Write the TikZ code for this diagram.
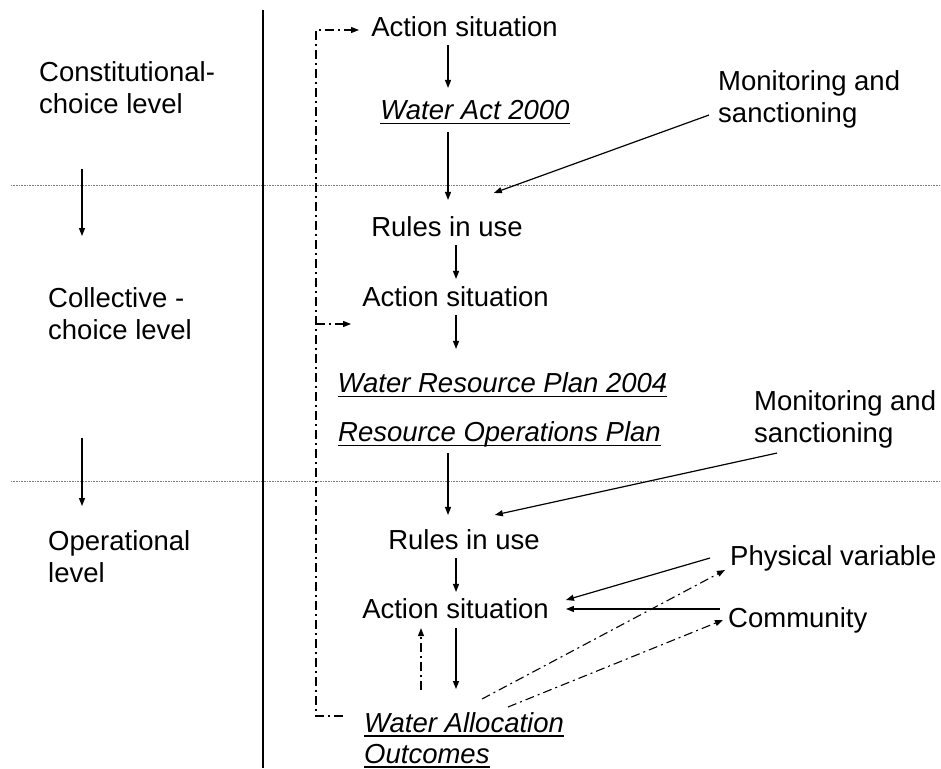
\documentclass[tikz,border=0pt]{standalone}
\usepackage{fontspec}
\setmainfont{Liberation Sans}
\usetikzlibrary{arrows.meta}

\newcommand{\udoc}[1]{\leavevmode\setbox0\hbox{#1}\rlap{\rule[-4.5pt]{\wd0}{1.8pt}}\box0}

\begin{document}
\begin{tikzpicture}[x=1pt,y=-1pt,
  lbl/.style={font=\fontsize{27.5}{32}\selectfont, inner sep=0pt, text height=19.7pt, text depth=0pt},
  doc/.style={lbl, font=\fontsize{27.5}{32}\selectfont\itshape},
  note/.style={font=\fontsize{27.5}{32}\selectfont, inner sep=0pt, align=left, anchor=north west},
  flow/.style={line width=1.2pt, -{Triangle[length=8pt,width=6pt]}},
  fb/.style={line width=1.1pt, dash pattern=on 9pt off 4pt on 2pt off 4pt},
  level/.style={line width=0.6pt, gray, dash pattern=on 0.8pt off 0.8pt}]
\useasboundingbox (0,0) rectangle (941,768);

\draw[level] (11,185) -- (941,185);
\draw[level] (11,481) -- (941,481);
\draw[line width=1.2pt] (263,10) -- (263,768);

\node[note] (constit) at (39,61) {Constitutional-\\choice level};
\node[note] (collect) at (48,287) {Collective -\\choice level};
\node[note] (operat) at (48,530) {Operational\\level};

\node[lbl] (actTop) at (464.5,27) {Action situation};
\node[doc] (waterAct) at (475,110) {\udoc{Water Act 2000}};
\node[lbl] (rulesTop) at (447,227) {Rules in use};
\node[lbl] (actMid) at (455.5,297) {Action situation};
\node[doc] (wrp) at (502.5,383) {\udoc{Water Resource Plan 2004}};
\node[doc] (rop) at (499.5,432) {\udoc{Resource Operations Plan}};
\node[lbl] (rulesLow) at (464,540) {Rules in use};
\node[lbl] (actLow) at (455.5,609) {Action situation};
\node[note, font=\fontsize{27.5}{31}\selectfont\itshape] (wao) at (364,712) {\udoc{Water Allocation}\\\udoc{Outcomes}};

\node[note] (monTop) at (718,70) {Monitoring and\\sanctioning};
\node[note] (monLow) at (754,390) {Monitoring and\\sanctioning};
\node[lbl, anchor=west] (phys) at (730,556) {Physical variable};
\node[lbl, anchor=west] (comm) at (728,618) {Community};

\coordinate (lvlX) at (82,0);
\coordinate (spineA) at (448,0);
\coordinate (spineB) at (456,0);
\coordinate (upX) at (421,0);
\coordinate (fbX) at (316,0);

\draw[flow, shorten <=55pt, shorten >=51pt] (constit.south -| lvlX) -- (collect.north -| lvlX);
\draw[flow, shorten <=98pt, shorten >=24pt] (collect.south -| lvlX) -- (operat.north -| lvlX);

\draw[flow, shorten <=8pt, shorten >=12pt] (actTop.south -| spineA) -- (waterAct.north -| spineA);
\draw[flow, shorten <=12pt, shorten >=17pt] (waterAct.south -| spineA) -- (rulesTop.north -| spineA);
\draw[flow, shorten <=8pt, shorten >=8pt] (rulesTop.south -| spineB) -- (actMid.north -| spineB);
\draw[flow, shorten <=8pt, shorten >=24pt] (actMid.south -| spineB) -- (wrp.north -| spineB);
\draw[flow, shorten <=11pt, shorten >=15pt] (rop.south -| spineA) -- (rulesLow.north -| spineA);
\draw[flow, shorten <=8pt, shorten >=7pt] (rulesLow.south -| spineB) -- (actLow.north -| spineB);
\draw[flow, shorten <=9pt, shorten >=23pt] (actLow.south -| spineB) -- (wao.north -| spineB);
\draw[fb, -{Triangle[length=8pt,width=6pt]}, shorten >=9pt] ([yshift=22pt]wao.north -| upX) -- (actLow.south -| upX);

\draw[flow] ([xshift=-9pt,yshift=13pt]monTop.south west) -- ([xshift=-29pt,yshift=24pt]rulesTop.north east);
\draw[flow] ([xshift=23pt,yshift=-5pt]monLow.south west) -- ([xshift=-45pt,yshift=15pt]rulesLow.north east);
\draw[flow] ([xshift=-20pt,yshift=-2pt]phys.west) -- ([xshift=17pt,yshift=9pt]actLow.east);
\draw[flow] ([xshift=-8pt,yshift=9pt]comm.west) -- ([xshift=17pt]actLow.east);

\draw[fb, -{Triangle[length=8pt,width=6pt]}] ([xshift=118pt,yshift=13pt]wao.north west) -- ([xshift=-5pt,yshift=-14pt]phys.west);
\draw[fb, -{Triangle[length=8pt,width=6pt]}] ([xshift=144pt,yshift=5pt]wao.north west) -- ([xshift=-5pt,yshift=-2pt]comm.west);

\coordinate (fbStart) at ([xshift=-21pt,yshift=-4pt]wao.north west);
\coordinate (fbTop) at ([xshift=-12pt,yshift=-3pt]actTop.west);
\coordinate (fbMid) at ([xshift=-11pt,yshift=-27pt]actMid.west);
\draw[fb, -{Triangle[length=8pt,width=6pt]}] (fbStart) -- (fbStart -| fbX) |- (fbTop);
\draw[fb, -{Triangle[length=8pt,width=6pt]}] (fbX |- fbMid) -- (fbMid);
\end{tikzpicture}
\end{document}
